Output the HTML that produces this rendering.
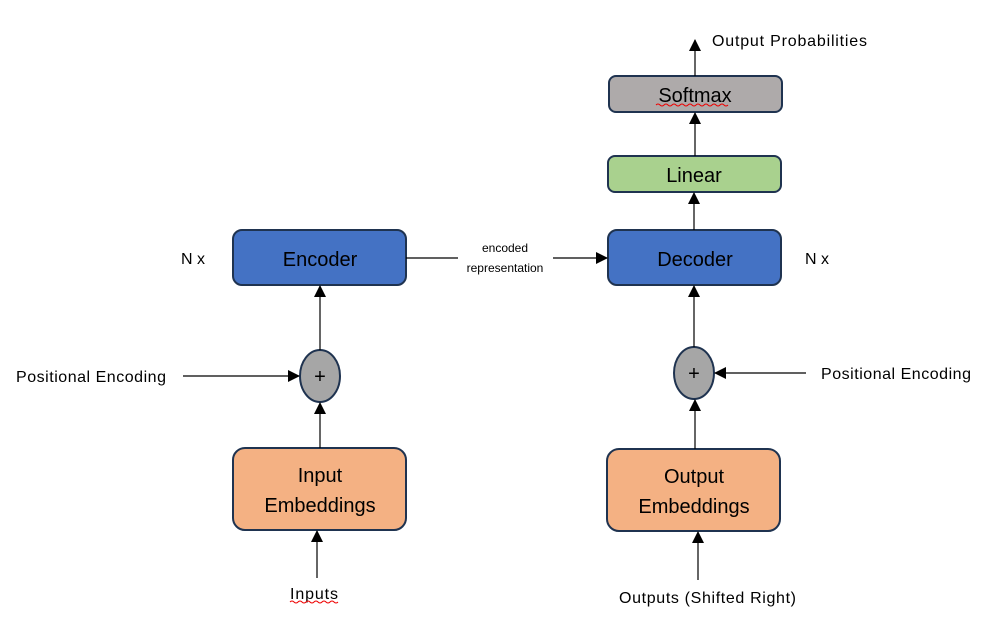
<!DOCTYPE html>
<html><head><meta charset="utf-8"><style>html,body{margin:0;padding:0;background:#fff}svg{display:block}text{font-family:"Liberation Sans",sans-serif;fill:#000}</style></head><body>
<svg width="1001" height="627" viewBox="0 0 1001 627" xmlns="http://www.w3.org/2000/svg">
<defs><marker id="a" markerWidth="12" markerHeight="12" refX="11" refY="6" orient="auto" markerUnits="userSpaceOnUse"><path d="M0,0 L12,6 L0,12 Z" fill="#000"/></marker></defs>
<g stroke="#1f3350" stroke-width="2">
<rect x="233" y="230" width="173" height="55" rx="9" fill="#4472c4"/>
<rect x="608" y="230" width="173" height="55" rx="9" fill="#4472c4"/>
<rect x="608" y="156" width="173" height="36" rx="7" fill="#a9d18e"/>
<rect x="609" y="76" width="173" height="36" rx="7" fill="#aeaaaa"/>
<rect x="233" y="448" width="173" height="82" rx="12" fill="#f4b183"/>
<rect x="607" y="449" width="173" height="82" rx="12" fill="#f4b183"/>
<ellipse cx="320" cy="376" rx="20" ry="26" fill="#a6a6a6"/>
<ellipse cx="694" cy="373" rx="20" ry="26" fill="#a6a6a6"/>
</g>
<g stroke="#000" stroke-width="1.2" fill="none" marker-end="url(#a)">
<line x1="320" y1="350" x2="320" y2="286"/>
<line x1="320" y1="448" x2="320" y2="403"/>
<line x1="317" y1="578" x2="317" y2="531"/>
<line x1="183" y1="376" x2="299" y2="376"/>
<line x1="694" y1="347" x2="694" y2="286"/>
<line x1="695" y1="449" x2="695" y2="400"/>
<line x1="698" y1="580" x2="698" y2="532"/>
<line x1="806" y1="373" x2="715" y2="373"/>
<line x1="694" y1="230" x2="694" y2="193"/>
<line x1="695" y1="156" x2="695" y2="113"/>
<line x1="695" y1="76" x2="695" y2="40"/>
<line x1="553" y1="258" x2="607" y2="258"/>
</g>
<line x1="406" y1="258" x2="458" y2="258" stroke="#000" stroke-width="1.2"/>
<g font-size="20" text-anchor="middle">
<text x="320" y="266">Encoder</text>
<text x="695" y="266">Decoder</text>
<text x="694" y="182">Linear</text>
<text x="695" y="102">Softmax</text>
<text x="320" y="482">Input</text>
<text x="320" y="512">Embeddings</text>
<text x="694" y="483">Output</text>
<text x="694" y="513">Embeddings</text>
<text x="320" y="383">+</text>
<text x="694" y="380">+</text>
</g>
<g font-size="16">
<text x="16" y="382" textLength="150" lengthAdjust="spacing">Positional Encoding</text>
<text x="821" y="379" textLength="150" lengthAdjust="spacing">Positional Encoding</text>
<text x="181" y="264">N x</text>
<text x="805" y="264">N x</text>
<text x="712" y="46" textLength="155" lengthAdjust="spacing">Output Probabilities</text>
<text x="290" y="599" textLength="48" lengthAdjust="spacing">Inputs</text>
<text x="619" y="603" textLength="177" lengthAdjust="spacing">Outputs (Shifted Right)</text>
</g>
<g font-size="12" text-anchor="middle">
<text x="505" y="252">encoded</text>
<text x="505" y="272">representation</text>
</g>
<path d="M656,105 q2,-2 4,0 t4,0 t4,0 t4,0 t4,0 t4,0 t4,0 t4,0 t4,0 t4,0 t4,0 t4,0 t4,0 t4,0 t4,0 t4,0 t4,0 t4,0" stroke="#e00" fill="none" stroke-width="1"/>
<path d="M290,602 q2,-2 4,0 t4,0 t4,0 t4,0 t4,0 t4,0 t4,0 t4,0 t4,0 t4,0 t4,0 t4,0" stroke="#e00" fill="none" stroke-width="1"/>
</svg>
</body></html>
